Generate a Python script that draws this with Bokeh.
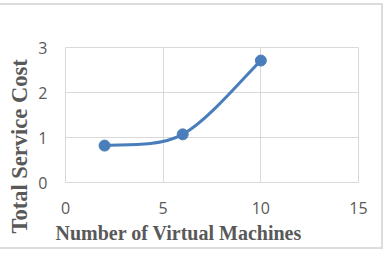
import numpy as np
from bokeh.plotting import figure
from bokeh.models import Range1d, FixedTicker, Title
from bokeh.embed import file_html
from bokeh.resources import INLINE

# data
vms = [2, 6, 10]
cost = [0.82, 1.07, 2.71]
x_ticks = [0, 5, 10, 15]
y_ticks = [0, 1, 2, 3]
x_title = "Number of Virtual Machines"
y_title = "Total Service Cost"

BLUE = "#4a7ebb"
GRID = "#d9d9d9"
TXT = "#595959"

p = figure(width=383, height=246, output_backend="svg", toolbar_location=None,
           x_range=Range1d(0, 15), y_range=Range1d(0, 3),
           min_border_left=65, min_border_right=25, min_border_top=42, min_border_bottom=69)
p.styles = {"margin-top": "3px",
            "border-top": "2px solid #dcdcdc",
            "border-right": "2px solid #dcdcdc",
            "border-bottom": "2px solid #dcdcdc"}
p.background_fill_color = "white"
p.border_fill_color = "white"
p.outline_line_color = GRID
p.outline_line_width = 1

for ax, ticks in ((p.xaxis[0], x_ticks), (p.yaxis[0], y_ticks)):
    ax.ticker = FixedTicker(ticks=ticks)
    ax.axis_line_color = None
    ax.major_tick_line_color = None
    ax.minor_tick_line_color = None
    ax.major_tick_out = 0
    ax.major_tick_in = 0
    ax.major_label_text_font = "Open Sans"
    ax.major_label_text_font_size = "16px"
    ax.major_label_text_color = TXT
p.xaxis.major_label_standoff = 19
p.yaxis.major_label_standoff = 18

p.xgrid.ticker = FixedTicker(ticks=x_ticks)
p.ygrid.ticker = FixedTicker(ticks=y_ticks)
p.grid.grid_line_color = GRID
p.grid.grid_line_width = 1

# smoothed line (Excel-style Bezier through the points)
P = np.column_stack([vms, cost]).astype(float)
n = len(P)
x0, y0, x1, y1, cx0, cy0, cx1, cy1 = [], [], [], [], [], [], [], []
for i in range(n - 1):
    pm = P[i - 1] if i > 0 else P[i]
    pp = P[i + 2] if i + 2 < n else P[i + 1]
    c0 = P[i] + (P[i + 1] - pm) / 6.0
    c1 = P[i + 1] - (pp - P[i]) / 6.0
    x0.append(P[i][0]); y0.append(P[i][1])
    x1.append(P[i + 1][0]); y1.append(P[i + 1][1])
    cx0.append(c0[0]); cy0.append(c0[1])
    cx1.append(c1[0]); cy1.append(c1[1])
p.bezier(x0=x0, y0=y0, x1=x1, y1=y1, cx0=cx0, cy0=cy0, cx1=cx1, cy1=cy1,
         line_color=BLUE, line_width=3)
p.scatter(vms, cost, size=11, fill_color=BLUE, line_color=BLUE)

p.add_layout(Title(text=x_title, align="left", offset=-10, standoff=7,
                   text_font="Liberation Serif", text_font_style="bold",
                   text_font_size="20px", text_color=TXT), "below")
p.add_layout(Title(text=y_title, align="left", offset=-51, standoff=7,
                   text_font="Liberation Serif", text_font_style="bold",
                   text_font_size="22.5px", text_color=TXT), "left")

open("out.html", "w").write(file_html(p, INLINE))
